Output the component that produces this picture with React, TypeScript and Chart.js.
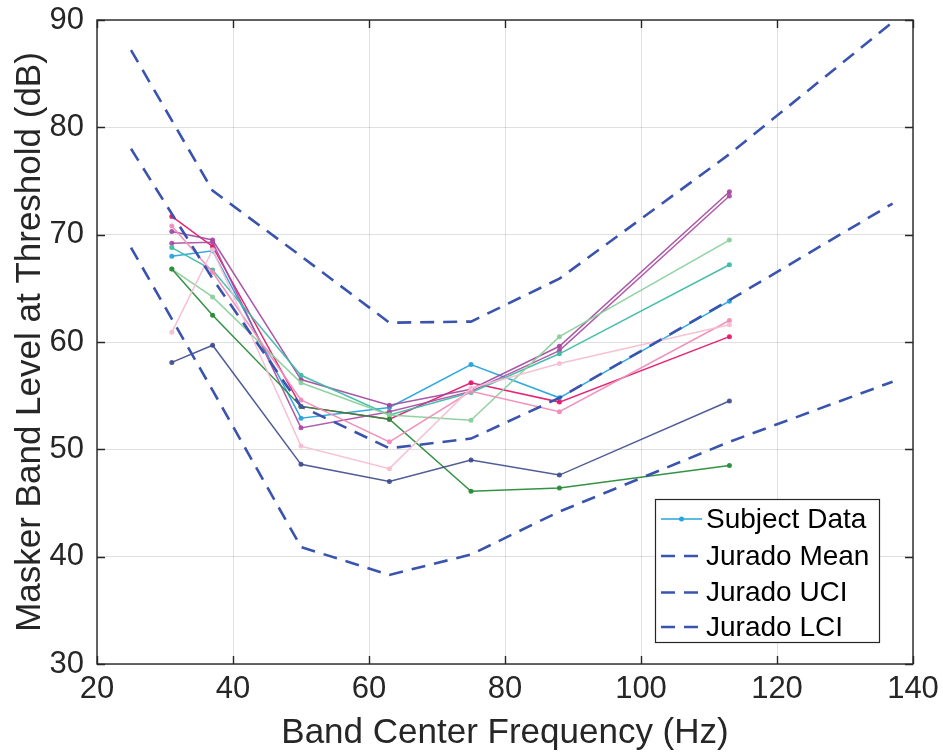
import React, { useEffect, useRef } from 'react';
import { Chart, registerables } from 'chart.js';

Chart.register(...registerables);

// ---------- data ----------
const bandFreqs = [31, 37, 50, 63, 75, 88, 113];

const subjectCyan = [68.0, 68.5, 52.9, 53.9, 57.9, 54.8, 63.8];
const subjectRed = [71.7, 68.9, 54.0, 52.8, 56.2, 54.4, 60.5];
const subjectPurpleA = [70.3, 69.5, 56.5, 54.1, 55.6, 59.6, 74.0];
const subjectPurpleB = [69.2, 69.3, 52.0, 53.5, 55.4, 59.2, 73.6];
const subjectTeal = [68.8, 66.7, 56.9, 53.2, 55.3, 58.9, 67.2];
const subjectLightGreen = [66.8, 64.2, 56.2, 53.2, 52.7, 60.5, 69.5];
const subjectDarkGreen = [66.8, 62.5, 54.0, 52.8, 46.1, 46.4, 48.5];
const subjectNavy = [58.1, 59.7, 48.6, 47.0, 49.0, 47.6, 54.5];
const subjectPink = [70.8, 66.5, 54.6, 50.7, 55.4, 53.5, 62.0];
const subjectLightPink = [60.9, 68.6, 50.3, 48.2, 55.7, 58.0, 61.6];

const juradoFreqs = [25, 37, 50, 63, 75, 88, 113, 137];
const juradoMean = [78.0, 65.9, 54.0, 50.1, 51.0, 54.8, 63.9, 72.9];
const juradoUCI = [87.2, 74.1, 68.0, 61.8, 61.9, 65.9, 77.5, 89.8];
const juradoLCI = [68.8, 55.5, 40.9, 38.3, 40.2, 44.2, 50.7, 56.3];

const xTicks = [20, 40, 60, 80, 100, 120, 140];
const yTicks = [30, 40, 50, 60, 70, 80, 90];
const legendLabels = ['Subject Data', 'Jurado Mean', 'Jurado UCI', 'Jurado LCI'];

const subjects: { values: number[]; color: string }[] = [
  { values: subjectLightPink, color: 'rgba(246,190,210,0.95)' },
  { values: subjectPink, color: 'rgba(240,140,184,0.95)' },
  { values: subjectNavy, color: 'rgba(60,74,140,0.9)' },
  { values: subjectDarkGreen, color: 'rgba(40,140,58,0.95)' },
  { values: subjectLightGreen, color: 'rgba(138,208,156,0.95)' },
  { values: subjectTeal, color: 'rgba(62,188,166,0.95)' },
  { values: subjectPurpleB, color: 'rgba(168,72,160,0.9)' },
  { values: subjectPurpleA, color: 'rgba(160,70,158,0.9)' },
  { values: subjectRed, color: 'rgba(230,24,108,0.95)' },
  { values: subjectCyan, color: 'rgba(38,164,222,0.95)' },
];

const DASH_COLOR = '#3a54ae';
const CYAN = 'rgba(38,164,222,1)';
const FONT = '"Liberation Sans", Arial, Helvetica, sans-serif';
const TEXT = '#262626';

const toPoints = (xs: number[], ys: number[]) => xs.map((x, i) => ({ x, y: ys[i] }));

const framePlugin = {
  id: 'matlabFrame',
  afterDraw(chart: any) {
    const { ctx, chartArea: a, scales } = chart;
    ctx.save();
    // frame
    ctx.strokeStyle = TEXT;
    ctx.lineWidth = 1.4;
    ctx.strokeRect(a.left, a.top, a.right - a.left, a.bottom - a.top);
    // inward ticks
    const tl = 8;
    ctx.beginPath();
    xTicks.forEach((v) => {
      const px = Math.round(scales.x.getPixelForValue(v)) + 0.5;
      ctx.moveTo(px, a.bottom);
      ctx.lineTo(px, a.bottom - tl);
      ctx.moveTo(px, a.top);
      ctx.lineTo(px, a.top + tl);
    });
    yTicks.forEach((v) => {
      const py = Math.round(scales.y.getPixelForValue(v)) + 0.5;
      ctx.moveTo(a.left, py);
      ctx.lineTo(a.left + tl, py);
      ctx.moveTo(a.right, py);
      ctx.lineTo(a.right - tl, py);
    });
    ctx.stroke();

    // legend
    const bw = 224;
    const bh = 143;
    const bx = a.right - 34 - bw;
    const by = a.bottom - 22 - bh;
    ctx.fillStyle = '#ffffff';
    ctx.fillRect(bx, by, bw, bh);
    ctx.strokeStyle = '#262626';
    ctx.lineWidth = 1.2;
    ctx.strokeRect(bx + 0.5, by + 0.5, bw, bh);
    const rowY = [20, 57, 93.5, 128];
    const lx0 = bx + 6;
    const lx1 = bx + 47;
    ctx.font = `28px ${FONT}`;
    ctx.textBaseline = 'middle';
    ctx.textAlign = 'left';
    legendLabels.forEach((lab, i) => {
      const yy = by + rowY[i];
      if (i === 0) {
        ctx.strokeStyle = CYAN;
        ctx.lineWidth = 1.5;
        ctx.setLineDash([]);
        ctx.beginPath();
        ctx.moveTo(lx0, yy);
        ctx.lineTo(lx1, yy);
        ctx.stroke();
        ctx.fillStyle = CYAN;
        ctx.beginPath();
        ctx.arc((lx0 + lx1) / 2, yy, 2.5, 0, Math.PI * 2);
        ctx.fill();
      } else {
        ctx.strokeStyle = DASH_COLOR;
        ctx.lineWidth = 2.5;
        ctx.setLineDash([14, 9]);
        ctx.beginPath();
        ctx.moveTo(lx0, yy);
        ctx.lineTo(lx1, yy);
        ctx.stroke();
        ctx.setLineDash([]);
      }
      ctx.fillStyle = '#000000';
      ctx.fillText(lab, bx + 51, yy + 1);
    });
    ctx.restore();
  },
};

export default function App() {
  const canvasRef = useRef<HTMLCanvasElement | null>(null);

  useEffect(() => {
    if (!canvasRef.current) return;
    const subjectSets = subjects.map((s) => ({
      label: 'Subject Data',
      data: toPoints(bandFreqs, s.values),
      borderColor: s.color,
      backgroundColor: s.color,
      borderWidth: 1.5,
      pointRadius: 2.5,
      pointBorderWidth: 0,
      pointBackgroundColor: s.color,
      fill: false,
      tension: 0,
      order: 2,
    }));
    const dashSet = (label: string, ys: number[]) => ({
      label,
      data: toPoints(juradoFreqs, ys),
      borderColor: DASH_COLOR,
      backgroundColor: DASH_COLOR,
      borderWidth: 2.6,
      borderDash: [14, 9],
      pointRadius: 0,
      fill: false,
      tension: 0,
      order: 1,
    });

    const chart = new Chart(canvasRef.current, {
      type: 'line',
      data: {
        datasets: [
          ...subjectSets,
          dashSet(legendLabels[1], juradoMean),
          dashSet(legendLabels[2], juradoUCI),
          dashSet(legendLabels[3], juradoLCI),
        ] as any,
      },
      options: {
        responsive: false,
        animation: false,
        events: [],
        layout: { padding: { top: 20, right: 30, left: 0, bottom: 0 } },
        plugins: {
          legend: { display: false },
          tooltip: { enabled: false },
        },
        scales: {
          x: {
            type: 'linear',
            min: 20,
            max: 140,
            afterFit: (scale: any) => {
              scale.height = 90;
              scale.paddingLeft = 0;
              scale.paddingRight = 0;
            },
            afterBuildTicks: (scale: any) => {
              scale.ticks = xTicks.map((v) => ({ value: v }));
            },
            grid: { color: 'rgba(0,0,0,0.12)', lineWidth: 1, drawTicks: false },
            border: { display: false },
            ticks: {
              color: TEXT,
              padding: 7,
              maxRotation: 0,
              font: { family: FONT, size: 31 },
            },
            title: {
              display: true,
              text: 'Band Center Frequency (Hz)',
              color: TEXT,
              font: { family: FONT, size: 35 },
              padding: { top: 0, bottom: 0 },
            },
          },
          y: {
            type: 'linear',
            min: 30,
            max: 90,
            afterFit: (scale: any) => {
              scale.width = 97;
              scale.paddingTop = 0;
              scale.paddingBottom = 0;
            },
            afterBuildTicks: (scale: any) => {
              scale.ticks = yTicks.map((v) => ({ value: v }));
            },
            grid: { color: 'rgba(0,0,0,0.12)', lineWidth: 1, drawTicks: false },
            border: { display: false },
            ticks: {
              color: TEXT,
              padding: 13,
              font: { family: FONT, size: 31 },
            },
            title: {
              display: true,
              text: 'Masker Band Level at Threshold (dB)',
              color: TEXT,
              font: { family: FONT, size: 35 },
              padding: { top: 9, bottom: 0 },
            },
          },
        },
      } as any,
      plugins: [framePlugin],
    });
    return () => chart.destroy();
  }, []);

  return (
    <div style={{ position: 'fixed', left: 0, top: 0, width: 943, height: 754, background: '#fff' }}>
      <canvas ref={canvasRef} width={943} height={754} style={{ display: 'block' }} />
    </div>
  );
}
